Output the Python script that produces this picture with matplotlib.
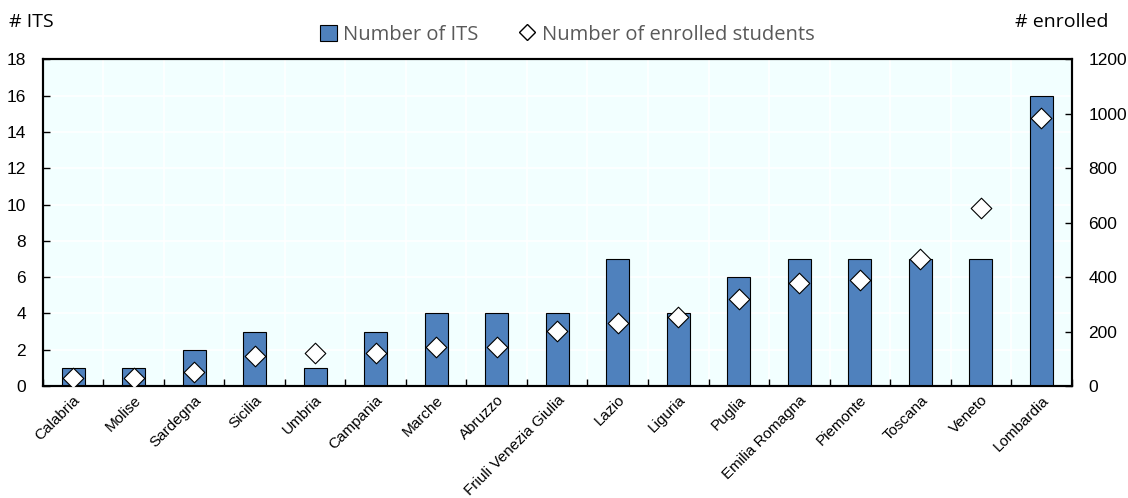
import matplotlib
matplotlib.use("Agg")
import matplotlib.pyplot as plt
import numpy as np
from matplotlib.lines import Line2D
from matplotlib.patches import Patch

regions = ["Calabria", "Molise", "Sardegna", "Sicilia", "Umbria", "Campania", "Marche",
           "Abruzzo", "Friuli Venezia Giulia", "Lazio", "Liguria", "Puglia",
           "Emilia Romagna", "Piemonte", "Toscana", "Veneto", "Lombardia"]
n_its = [1, 1, 2, 3, 1, 3, 4, 4, 4, 7, 4, 6, 7, 7, 7, 7, 16]
enrolled = [28, 28, 51, 112, 122, 122, 143, 143, 203, 233, 253, 320, 380, 390, 468, 655, 983]

plt.rcParams["font.family"] = ["Liberation Sans", "DejaVu Sans"]
title_font = ["Open Sans", "DejaVu Sans"]

fig = plt.figure(figsize=(11.28, 4.98), dpi=100)
ax = fig.add_axes([0.0379, 0.2249, 0.9122, 0.6558])
ax.set_facecolor("#F2FFFF")

x = np.arange(len(regions))
ax.bar(x, n_its, width=0.38, color="#4F81BD", edgecolor="black", linewidth=0.8, zorder=3)
ax.set_xlim(-0.5, len(regions) - 0.5)
ax.set_ylim(0, 18)
ax.set_yticks(range(0, 19, 2))
ax.set_xticks(x)
ax.set_xticklabels(regions, rotation=45, ha="right", rotation_mode="anchor", fontsize=11)
ax.tick_params(axis="x", length=0, pad=5)
ax.set_xticks(np.arange(-0.5, len(regions), 1), minor=True)
ax.tick_params(axis="x", which="minor", direction="in", length=5, width=1)
ax.tick_params(axis="y", direction="in", length=5, width=1, labelsize=12.5, pad=12)
ax.grid(True, which="minor", axis="x", color="white", linewidth=1.2, zorder=0)
ax.grid(True, which="major", axis="y", color="white", linewidth=1.2, zorder=0)
for s in ax.spines.values():
    s.set_linewidth(1.5)

ax2 = ax.twinx()
ax2.scatter(x, enrolled, marker="D", s=110, facecolor="white", edgecolor="black", linewidth=0.8, zorder=5)
ax2.set_ylim(0, 1200)
ax2.set_yticks(range(0, 1201, 200))
ax2.tick_params(axis="y", direction="in", length=5, width=1, labelsize=12.5, pad=12)
for s in ax2.spines.values():
    s.set_linewidth(1.5)

fig.text(0.008, 0.945, "# ITS", fontsize=14, family=title_font)
fig.text(0.983, 0.945, "# enrolled", fontsize=14, ha="right", family=title_font)

handles = [Patch(facecolor="#4F81BD", edgecolor="black", linewidth=0.8),
           Line2D([], [], marker="D", linestyle="none", markerfacecolor="white",
                  markeredgecolor="black", markersize=8)]
leg = fig.legend(handles, ["Number of ITS", "Number of enrolled students"], loc="center",
                 bbox_to_anchor=(0.503, 0.93), ncol=2, frameon=False, handlelength=0.85,
                 handleheight=0.85, handletextpad=0.3, columnspacing=2.0,
                 prop={"family": title_font, "size": 14.5})
for t in leg.get_texts():
    t.set_color("#595959")

fig.savefig("out.png", dpi=100)
